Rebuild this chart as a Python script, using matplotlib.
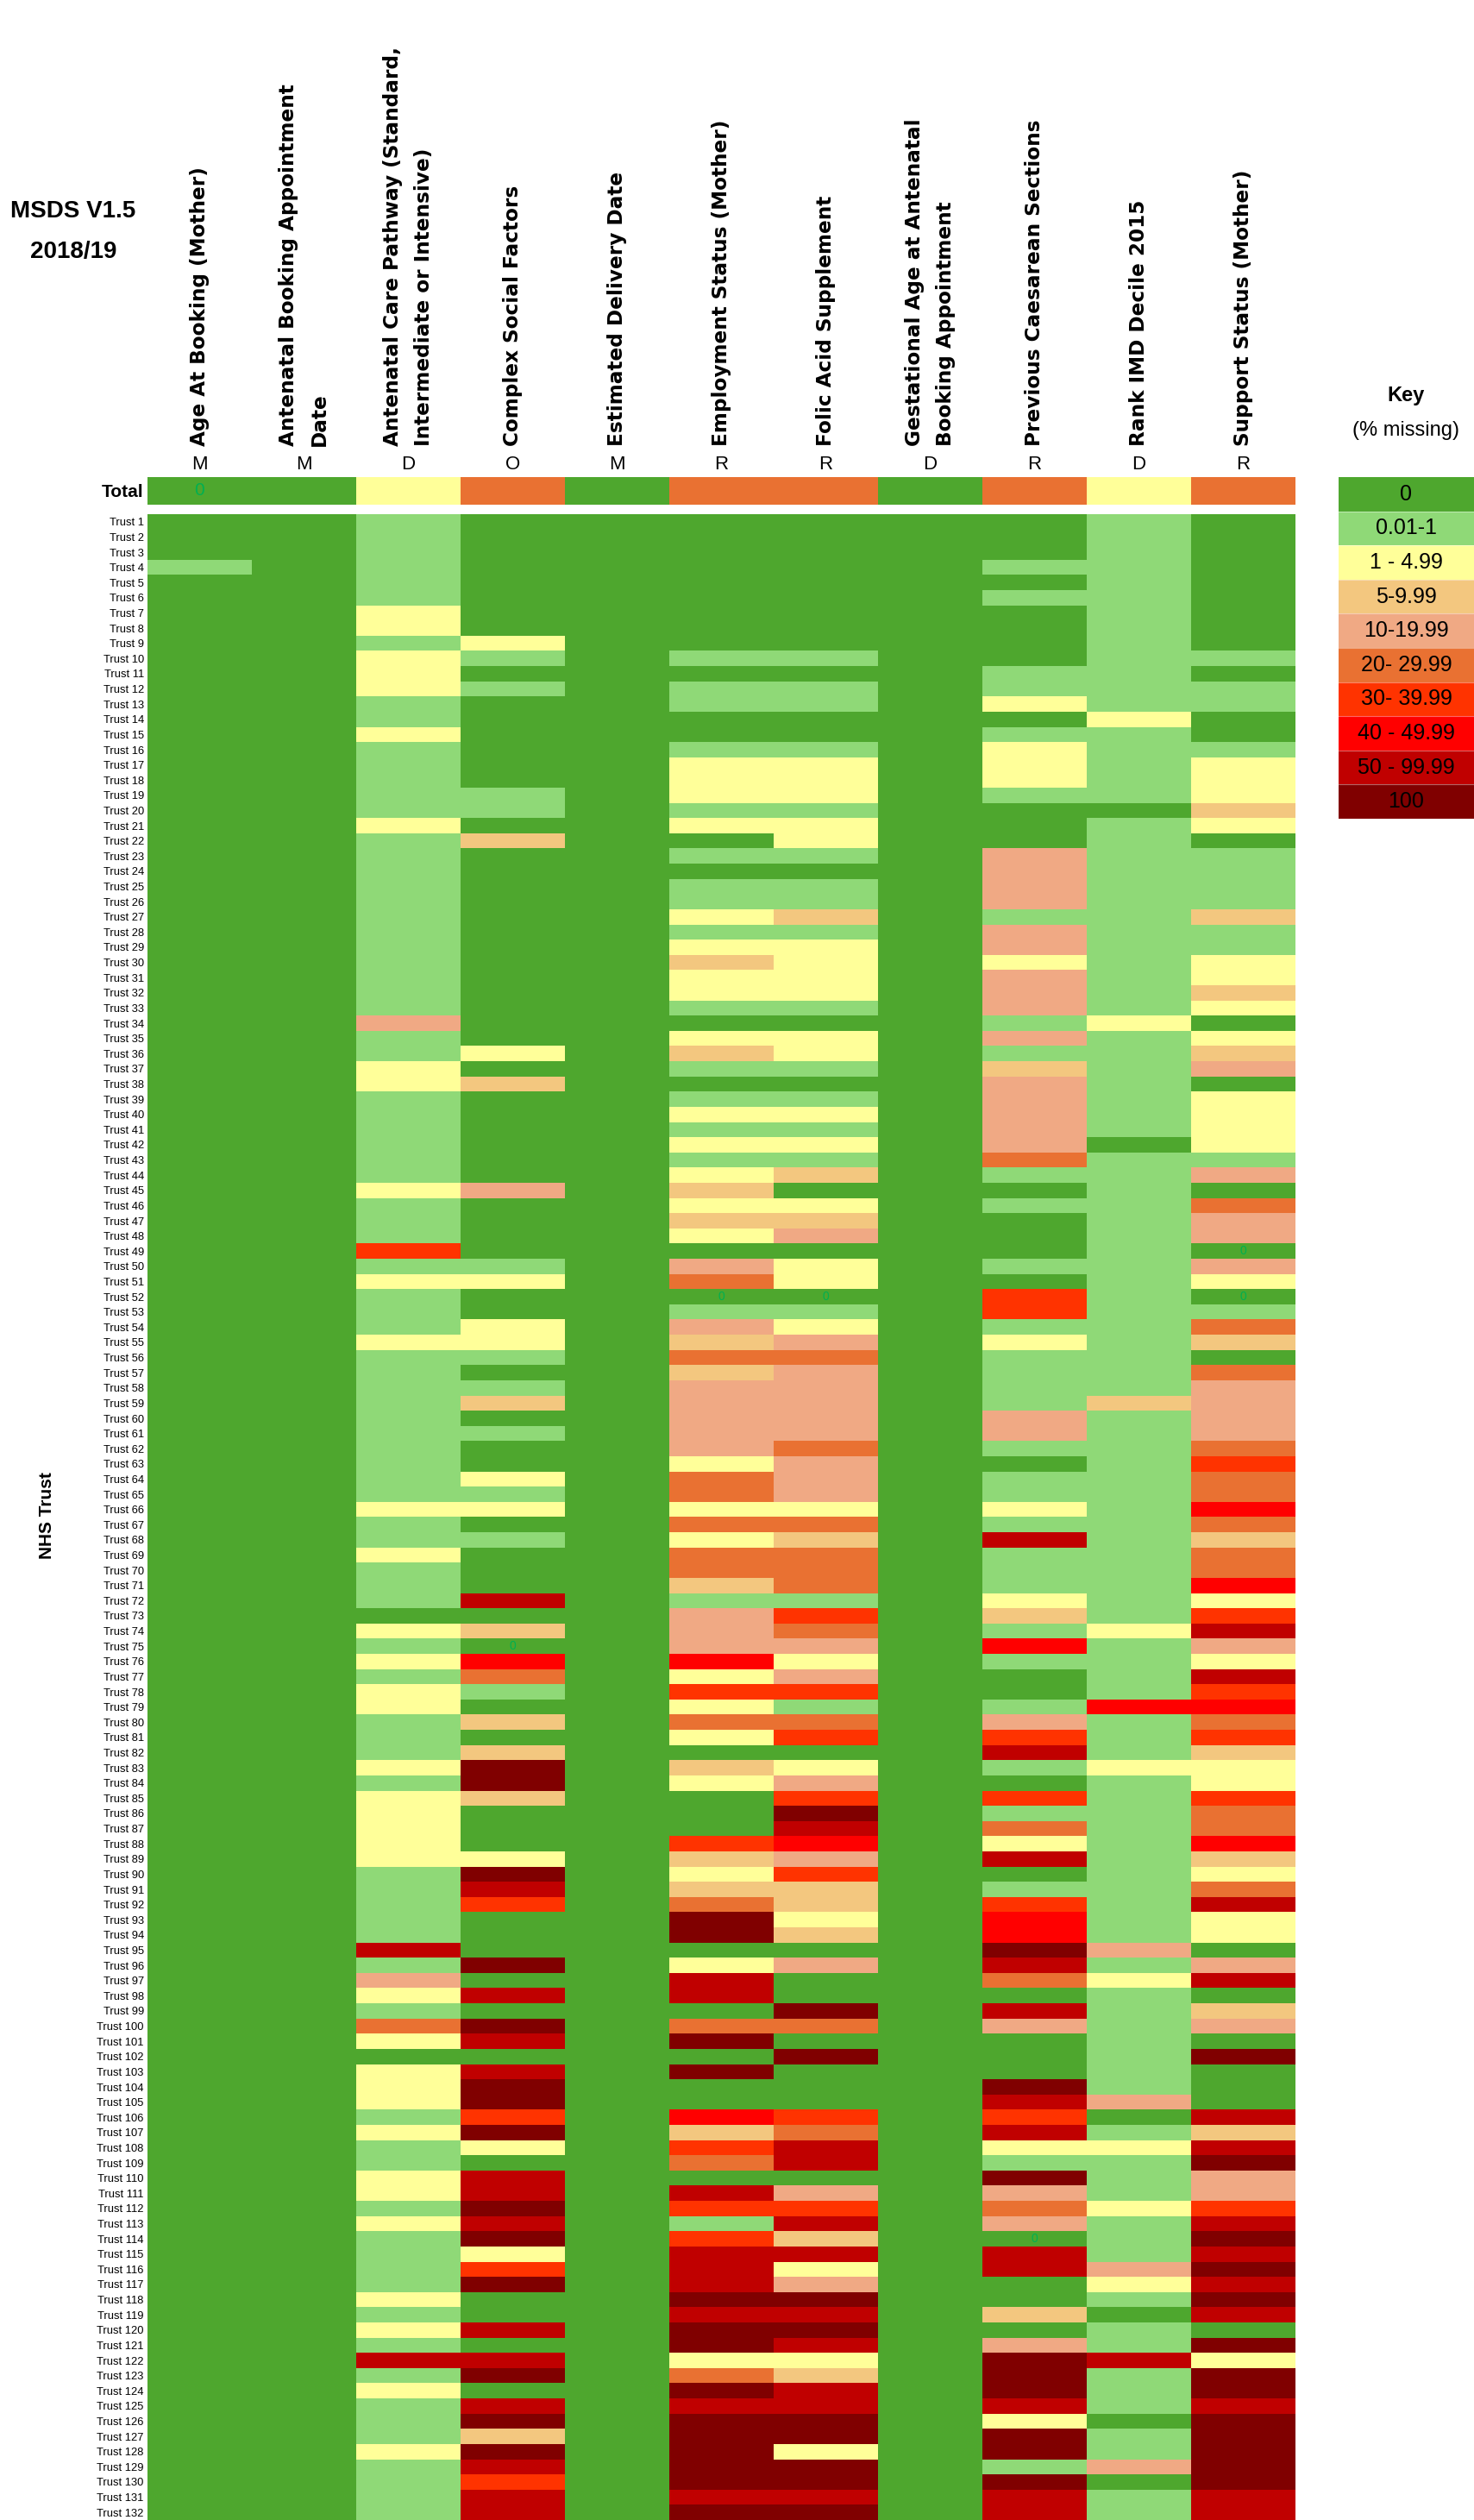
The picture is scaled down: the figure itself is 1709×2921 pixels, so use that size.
import numpy as np
import matplotlib
matplotlib.use('Agg')
import matplotlib.pyplot as plt
from matplotlib import transforms
from matplotlib.colors import ListedColormap, BoundaryNorm

W, H = 1709, 2921
DPI = 100
N_TRUSTS = 132

COLUMNS = ['Age At Booking (Mother)',
           'Antenatal Booking Appointment\nDate',
           'Antenatal Care Pathway (Standard,\nIntermediate or Intensive)',
           'Complex Social Factors',
           'Estimated Delivery Date',
           'Employment Status (Mother)',
           'Folic Acid Supplement',
           'Gestational Age at Antenatal\nBooking Appointment',
           'Previous Caesarean Sections',
           'Rank IMD Decile 2015',
           'Support Status (Mother)']
COLUMN_CODES = ['M', 'M', 'D', 'O', 'M', 'R', 'R', 'D', 'R', 'D', 'R']

KEY_LABELS = ['0', '0.01-1', '1 - 4.99', '5-9.99', '10-19.99', '20- 29.99',
              '30- 39.99', '40 - 49.99', '50 - 99.99', '100']
KEY_COLORS = ['#4ea72e', '#8fd977', '#ffff99', '#f3c77f', '#f0a984', '#e97132',
              '#ff3300', '#ff0000', '#c00000', '#800000']

TRUSTS = ['Trust %d' % (i + 1) for i in range(N_TRUSTS)]

# category index into KEY_LABELS, one value per trust (Trust 1 .. Trust 132)
TOTAL = [0, 0, 2, 5, 0, 5, 5, 0, 5, 2, 5]

AGE_AT_BOOKING = [0, 0, 0, 1, 0, 0, 0, 0, 0, 0] + [0] * 122
BOOKING_DATE = [0] * N_TRUSTS
CARE_PATHWAY = [1, 1, 1, 1, 1, 1, 2, 2, 1, 2,
                2, 2, 1, 1, 2, 1, 1, 1, 1, 1,
                2, 1, 1, 1, 1, 1, 1, 1, 1, 1,
                1, 1, 1, 4, 1, 1, 2, 2, 1, 1,
                1, 1, 1, 1, 2, 1, 1, 1, 6, 1,
                2, 1, 1, 1, 2, 1, 1, 1, 1, 1,
                1, 1, 1, 1, 1, 2, 1, 1, 2, 1,
                1, 1, 0, 2, 1, 2, 1, 2, 2, 1,
                1, 1, 2, 1, 2, 2, 2, 2, 2, 1,
                1, 1, 1, 1, 8, 1, 4, 2, 1, 5,
                2, 0, 2, 2, 2, 1, 2, 1, 1, 2,
                2, 1, 2, 1, 1, 1, 1, 2, 1, 2,
                1, 8, 1, 2, 1, 1, 1, 2, 1, 1,
                1, 1]
COMPLEX_SOCIAL = [0, 0, 0, 0, 0, 0, 0, 0, 2, 1,
                  0, 1, 0, 0, 0, 0, 0, 0, 1, 1,
                  0, 3, 0, 0, 0, 0, 0, 0, 0, 0,
                  0, 0, 0, 0, 0, 2, 0, 3, 0, 0,
                  0, 0, 0, 0, 4, 0, 0, 0, 0, 1,
                  2, 0, 0, 2, 2, 1, 0, 1, 3, 0,
                  1, 0, 0, 2, 1, 2, 0, 1, 0, 0,
                  0, 8, 0, 3, 0, 7, 5, 1, 0, 3,
                  0, 3, 9, 9, 3, 0, 0, 0, 2, 9,
                  8, 6, 0, 0, 0, 9, 0, 8, 0, 9,
                  8, 0, 8, 9, 9, 6, 9, 2, 0, 8,
                  8, 9, 8, 9, 2, 6, 9, 0, 0, 8,
                  0, 8, 9, 0, 8, 9, 3, 9, 8, 6,
                  8, 8]
DELIVERY_DATE = [0] * N_TRUSTS
EMPLOYMENT = [0, 0, 0, 0, 0, 0, 0, 0, 0, 1,
              0, 1, 1, 0, 0, 1, 2, 2, 2, 1,
              2, 0, 1, 0, 1, 1, 2, 1, 2, 3,
              2, 2, 1, 0, 2, 3, 1, 0, 1, 2,
              1, 2, 1, 2, 3, 2, 3, 2, 0, 4,
              5, 0, 1, 4, 3, 5, 3, 4, 4, 4,
              4, 4, 2, 5, 5, 2, 5, 2, 5, 5,
              3, 1, 4, 4, 4, 7, 2, 6, 2, 5,
              2, 0, 3, 2, 0, 0, 0, 6, 3, 2,
              3, 5, 9, 9, 0, 2, 8, 8, 0, 5,
              9, 0, 9, 0, 0, 7, 3, 6, 5, 0,
              8, 6, 1, 6, 8, 8, 8, 9, 8, 9,
              9, 2, 5, 9, 8, 9, 9, 9, 9, 9,
              8, 9]
FOLIC_ACID = [0, 0, 0, 0, 0, 0, 0, 0, 0, 1,
              0, 1, 1, 0, 0, 1, 2, 2, 2, 1,
              2, 2, 1, 0, 1, 1, 3, 1, 2, 2,
              2, 2, 1, 0, 2, 2, 1, 0, 1, 2,
              1, 2, 1, 3, 0, 2, 3, 4, 0, 2,
              2, 0, 1, 2, 4, 5, 4, 4, 4, 4,
              4, 5, 4, 4, 4, 2, 5, 3, 5, 5,
              5, 1, 6, 5, 4, 2, 4, 6, 1, 5,
              6, 0, 2, 4, 6, 9, 8, 7, 4, 6,
              3, 3, 2, 3, 0, 4, 0, 0, 9, 5,
              0, 9, 0, 0, 0, 6, 5, 8, 8, 0,
              4, 6, 8, 3, 8, 2, 4, 9, 8, 9,
              8, 2, 3, 8, 8, 9, 9, 2, 9, 9,
              8, 9]
GESTATIONAL_AGE = [0] * N_TRUSTS
PREV_CAESAREAN = [0, 0, 0, 1, 0, 1, 0, 0, 0, 0,
                  1, 1, 2, 0, 1, 2, 2, 2, 1, 0,
                  0, 0, 4, 4, 4, 4, 1, 4, 4, 2,
                  4, 4, 4, 1, 4, 1, 3, 4, 4, 4,
                  4, 4, 5, 1, 0, 1, 0, 0, 0, 1,
                  0, 6, 6, 1, 2, 1, 1, 1, 1, 4,
                  4, 1, 0, 1, 1, 2, 1, 8, 1, 1,
                  1, 2, 3, 1, 7, 1, 0, 0, 1, 4,
                  6, 8, 1, 0, 6, 1, 5, 2, 8, 0,
                  1, 6, 7, 7, 9, 8, 5, 0, 8, 4,
                  0, 0, 0, 9, 8, 6, 8, 2, 1, 9,
                  4, 5, 4, 0, 8, 8, 0, 0, 3, 0,
                  4, 9, 9, 9, 8, 2, 9, 9, 1, 9,
                  8, 8]
IMD_DECILE = [1, 1, 1, 1, 1, 1, 1, 1, 1, 1,
              1, 1, 1, 2, 1, 1, 1, 1, 1, 0,
              1, 1, 1, 1, 1, 1, 1, 1, 1, 1,
              1, 1, 1, 2, 1, 1, 1, 1, 1, 1,
              1, 0, 1, 1, 1, 1, 1, 1, 1, 1,
              1, 1, 1, 1, 1, 1, 1, 1, 3, 1,
              1, 1, 1, 1, 1, 1, 1, 1, 1, 1,
              1, 1, 1, 2, 1, 1, 1, 1, 7, 1,
              1, 1, 2, 1, 1, 1, 1, 1, 1, 1,
              1, 1, 1, 1, 4, 1, 2, 1, 1, 1,
              1, 1, 1, 1, 4, 0, 1, 2, 1, 1,
              1, 2, 1, 1, 1, 4, 2, 1, 0, 1,
              1, 8, 1, 1, 1, 0, 1, 1, 4, 0,
              1, 1]
SUPPORT_STATUS = [0, 0, 0, 0, 0, 0, 0, 0, 0, 1,
                  0, 1, 1, 0, 0, 1, 2, 2, 2, 3,
                  2, 0, 1, 1, 1, 1, 3, 1, 1, 2,
                  2, 3, 2, 0, 2, 3, 4, 0, 2, 2,
                  2, 2, 1, 4, 0, 5, 4, 4, 0, 4,
                  2, 0, 1, 5, 3, 0, 5, 4, 4, 4,
                  4, 5, 6, 5, 5, 7, 5, 3, 5, 5,
                  7, 2, 6, 8, 4, 2, 8, 6, 7, 5,
                  6, 3, 2, 2, 6, 5, 5, 7, 3, 2,
                  5, 8, 2, 2, 0, 4, 8, 0, 3, 4,
                  0, 9, 0, 0, 0, 8, 3, 8, 9, 4,
                  4, 6, 8, 9, 8, 9, 8, 9, 8, 0,
                  9, 2, 9, 9, 8, 9, 9, 9, 9, 9,
                  8, 8]

# cells where a stray green "0" is printed (trust index, column index)
ZERO_MARKS = [(48, 10), (51, 5), (51, 6), (51, 10), (74, 3), (113, 8)]


def add_axes_px(fig, left, top, right, bottom):
    """Add axes given a box in pixel coordinates measured from the top left."""
    return fig.add_axes([left / W, 1 - bottom / H,
                         (right - left) / W, (bottom - top) / H])


def main():
    plt.rcParams['font.family'] = ['Liberation Sans', 'DejaVu Sans']

    cmap = ListedColormap(KEY_COLORS)
    norm = BoundaryNorm(np.arange(-0.5, len(KEY_COLORS)), cmap.N)

    grid = np.array([AGE_AT_BOOKING, BOOKING_DATE, CARE_PATHWAY,
                     COMPLEX_SOCIAL, DELIVERY_DATE, EMPLOYMENT, FOLIC_ACID,
                     GESTATIONAL_AGE, PREV_CAESAREAN, IMD_DECILE,
                     SUPPORT_STATUS]).T

    fig = plt.figure(figsize=(W / DPI, H / DPI), dpi=DPI)

    # main heatmap
    ax = add_axes_px(fig, 171, 596, 1502, 2921)
    ax.imshow(grid, cmap=cmap, norm=norm, aspect='auto',
              interpolation='nearest')
    ax.set_xticks([])
    ax.set_yticks(range(N_TRUSTS), labels=TRUSTS, fontsize=9.3)
    ax.tick_params(length=0, pad=3)
    for spine in ax.spines.values():
        spine.set_visible(False)
    for row, col in ZERO_MARKS:
        ax.text(col, row, '0', ha='center', va='center', fontsize=10,
                color='#00b050')

    # total row
    ax_t = add_axes_px(fig, 171, 553, 1502, 585)
    ax_t.imshow(np.array([TOTAL]), cmap=cmap, norm=norm, aspect='auto',
                interpolation='nearest')
    ax_t.set_xticks([])
    ax_t.set_yticks([0], labels=['Total'], fontsize=15, fontweight='bold')
    ax_t.tick_params(length=0, pad=3)
    for spine in ax_t.spines.values():
        spine.set_visible(False)
    ax_t.text(0, 0, '0', ha='center', va='center', fontsize=15,
              color='#00b050')

    # column headers and data-quality codes
    trans = transforms.blended_transform_factory(ax_t.transData,
                                                 fig.transFigure)
    for i, (name, code) in enumerate(zip(COLUMNS, COLUMN_CODES)):
        ax_t.text(i, 1 - 517 / H, name, transform=trans, rotation=90,
                  ha='center', va='bottom', multialignment='left',
                  fontsize=16.7, fontweight='bold', family='DejaVu Sans',
                  linespacing=1.75)
        ax_t.text(i, 1 - 538 / H, code, transform=trans, ha='center',
                  va='center', fontsize=16)

    fig.text(85 / W, 1 - 245 / H, 'MSDS V1.5', ha='center', va='center',
             fontsize=20, fontweight='bold')
    fig.text(85 / W, 1 - 292 / H, '2018/19', ha='center', va='center',
             fontsize=20, fontweight='bold')
    fig.text(55 / W, 1 - 1757 / H, 'NHS Trust', ha='center', va='center',
             rotation=90, fontsize=15, fontweight='bold')

    # key
    ax_k = add_axes_px(fig, 1552, 553, 1709, 949)
    ax_k.imshow(np.arange(len(KEY_COLORS)).reshape(-1, 1), cmap=cmap,
                norm=norm, aspect='auto', interpolation='nearest')
    for i, label in enumerate(KEY_LABELS):
        ax_k.text(0, i, label, ha='center', va='center', fontsize=18)
    for i in range(1, len(KEY_LABELS)):
        ax_k.axhline(i - 0.5, color='white', lw=0.8, alpha=0.4)
    ax_k.set_axis_off()
    fig.text(1630 / W, 1 - 459 / H, 'Key', ha='center', va='center',
             fontsize=17, fontweight='bold')
    fig.text(1630 / W, 1 - 499 / H, '(% missing)', ha='center',
             va='center', fontsize=17)

    fig.savefig('out.png', dpi=DPI, facecolor='white')


if __name__ == '__main__':
    main()
